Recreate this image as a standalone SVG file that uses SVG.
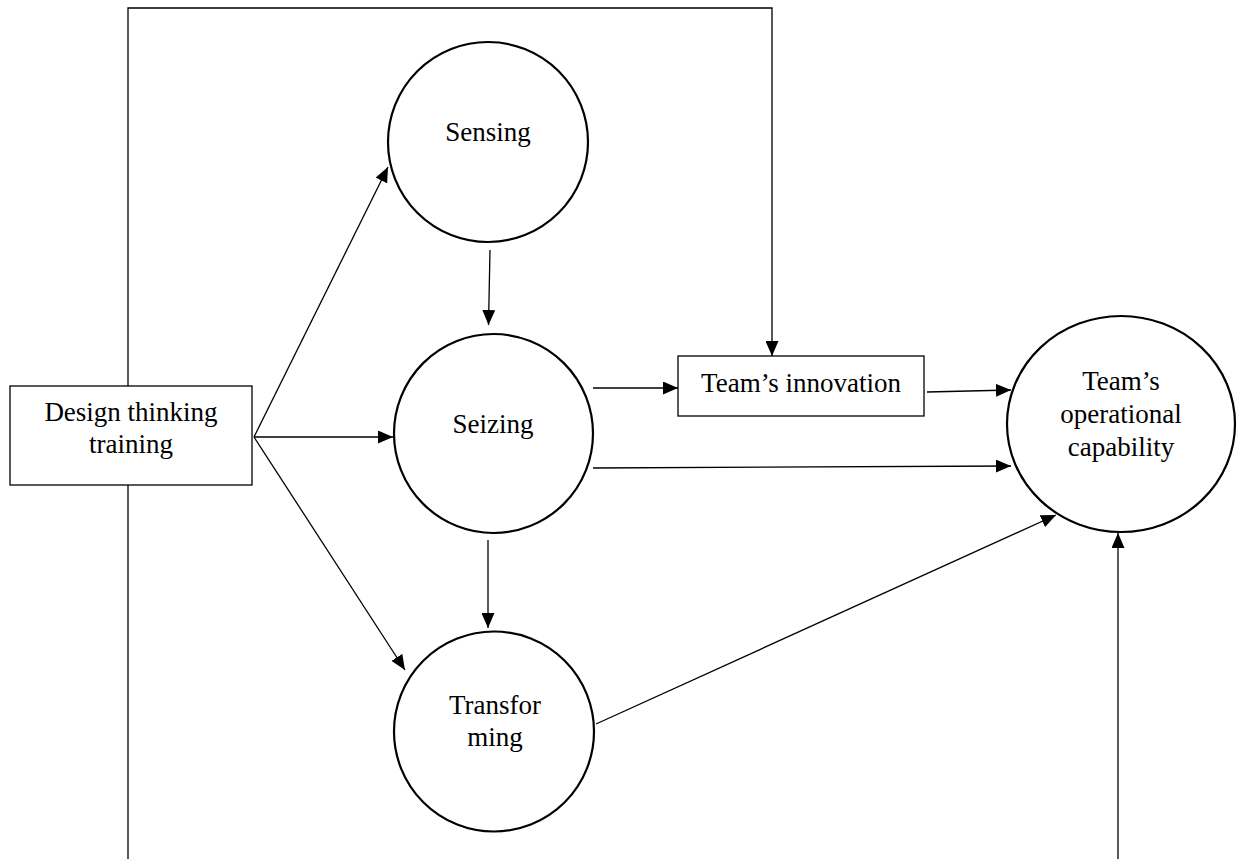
<svg xmlns="http://www.w3.org/2000/svg" width="1237" height="859" viewBox="0 0 1237 859">
<style>
.node{fill:#fff;stroke:#000;stroke-width:2.2}
.box{fill:#fff;stroke:#000;stroke-width:1.3}
.lbl{font-family:"Liberation Serif","Times New Roman",serif;font-size:27px;fill:#000;text-anchor:middle}
.con{fill:none;stroke:#000;stroke-width:1.3}
.arr{marker-end:url(#ah)}
</style>
<defs>
<marker id="ah" markerUnits="userSpaceOnUse" markerWidth="15" markerHeight="13" refX="15" refY="6.5" orient="auto">
<path d="M0,0 L15,6.5 L0,13 z" fill="#000"/>
</marker>
</defs>
<rect width="1237" height="859" fill="#fff"/>
<g id="connectors">
<path class="con" d="M128,386 V8 H772 V342"/>
<path class="con arr" d="M772,342 V356"/>
<path class="con" d="M128,485 V859"/>
<path class="con arr" d="M1118,859 V533"/>
<path class="con arr" d="M254,437 L388,167"/>
<path class="con arr" d="M254,437 L393,437"/>
<path class="con arr" d="M254,437 L405,670"/>
<path class="con arr" d="M490,250 L488.5,325"/>
<path class="con arr" d="M488,540 L488,628"/>
<path class="con arr" d="M593,388 L678,388"/>
<path class="con arr" d="M927,392 L1011,390"/>
<path class="con arr" d="M593,468 L1011,466"/>
<path class="con arr" d="M596,724 L1056,515"/>
</g>
<g id="design">
<rect class="box" x="10" y="386" width="242" height="99"/>
<text class="lbl" x="131" y="421">Design thinking</text>
<text class="lbl" x="131" y="453">training</text>
</g>
<g id="sensing">
<circle class="node" cx="488" cy="142" r="100"/>
<text class="lbl" x="488" y="141">Sensing</text>
</g>
<g id="seizing">
<circle class="node" cx="493.5" cy="433.5" r="99.5"/>
<text class="lbl" x="493" y="433">Seizing</text>
</g>
<g id="transforming">
<circle class="node" cx="494" cy="731.5" r="100"/>
<text class="lbl" x="495" y="714">Transfor</text>
<text class="lbl" x="495" y="746">ming</text>
</g>
<g id="innovation">
<rect class="box" x="678" y="356" width="246" height="60"/>
<text class="lbl" x="801" y="392">Team’s innovation</text>
</g>
<g id="operational">
<ellipse class="node" cx="1121" cy="424" rx="114" ry="108"/>
<text class="lbl" x="1121" y="390">Team’s</text>
<text class="lbl" x="1121" y="423">operational</text>
<text class="lbl" x="1121" y="456">capability</text>
</g>
</svg>
